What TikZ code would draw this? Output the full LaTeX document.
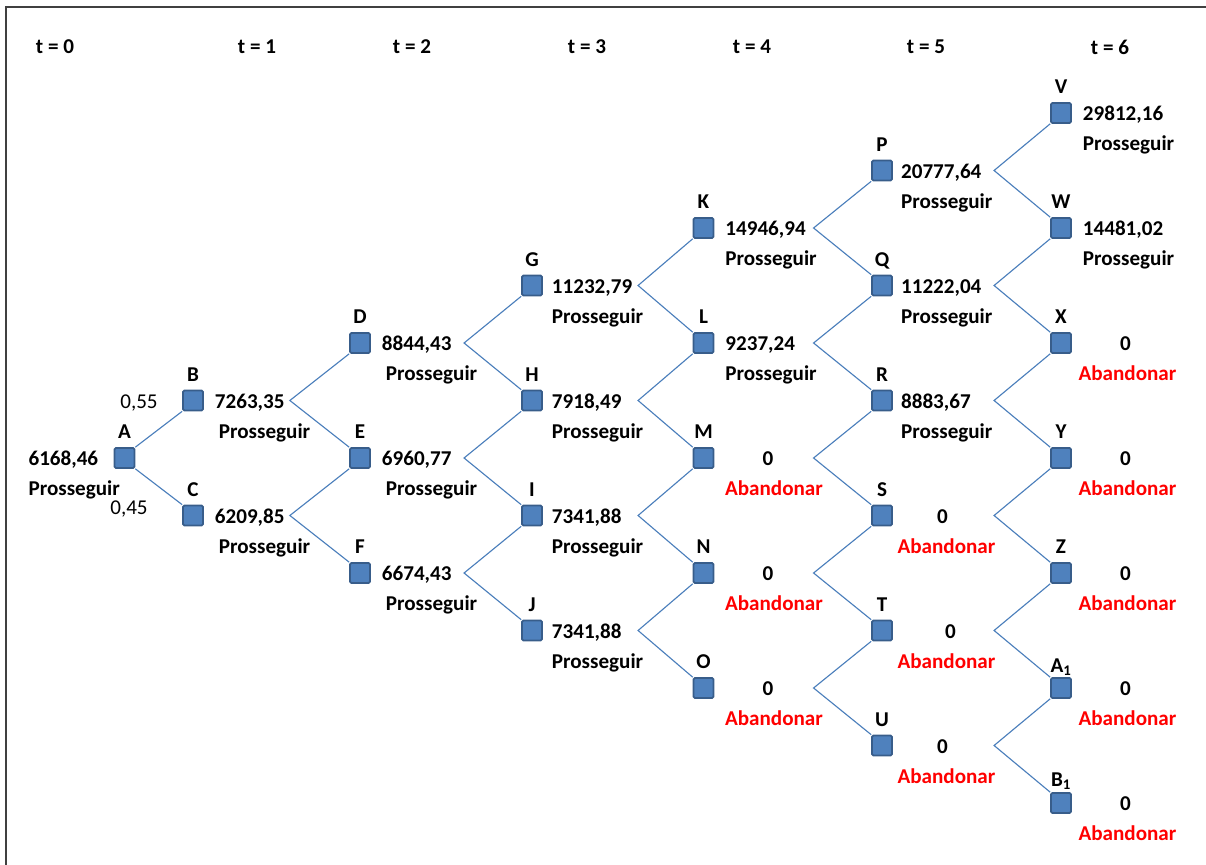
\documentclass[tikz,border=0pt]{standalone}
\usepackage{fontspec}
\setmainfont{Carlito}
\usepackage{tikz}
\usetikzlibrary{positioning}
\definecolor{nodefill}{HTML}{4F81BD}
\definecolor{nodeline}{HTML}{385D8A}
\definecolor{edgeblue}{HTML}{4A7EBB}
\definecolor{framegray}{HTML}{404040}

\begin{document}
\begin{tikzpicture}[x=0.025cm, y=-0.025cm,
  sq/.style={rectangle, draw=nodeline, fill=nodefill, line width=1.2pt,
    minimum size=0.5cm, inner sep=0pt, rounded corners=1pt},
  lbl/.style={font=\fontsize{15}{17}\selectfont\bfseries, inner sep=0pt, text depth=0pt},
  val/.style={font=\fontsize{15}{17}\selectfont\bfseries, inner sep=0pt,
    text height=14pt, text depth=3pt},
  go/.style={val},
  stop/.style={val, text=red},
  prob/.style={font=\fontsize{15}{17}\selectfont, inner sep=0pt},
  hdr/.style={font=\fontsize{15}{17}\selectfont\bfseries, inner sep=0pt},
  link/.style={draw=edgeblue, line width=0.8pt}
]
\useasboundingbox (0,0) rectangle (1206,865);
\draw[framegray, line width=1.4pt] (6,865) -- (6,7) -- (1206,7);
% time headers
\node[hdr] (t0) at (55,47) {t = 0};
\node[hdr] (t1) at (257,47) {t = 1};
\node[hdr] (t2) at (412,47) {t = 2};
\node[hdr] (t3) at (587,47) {t = 3};
\node[hdr] (t4) at (752,47) {t = 4};
\node[hdr] (t5) at (926,47) {t = 5};
\node[hdr] (t6) at (1110,47) {t = 6};
% t = 0
\node[sq] (A) at (124.5,458) {}; \node[lbl,above=0.2cm of A] {A};
\node[val,left=0.38cm of A] (Av) {6168,46};
\node[go,below right=0.14cm and 0cm of Av.south west] {Prosseguir};
% t = 1
\node[sq] (B) at (193,400.5) {}; \node[lbl,above=0.2cm of B] {B};
\node[val,right=0.27cm of B] (Bv) {7263,35};
\node[go,below right=0.14cm and 0.1cm of Bv.south west] {Prosseguir};
\node[sq] (C) at (193,515.5) {}; \node[lbl,above=0.2cm of C] {C};
\node[val,right=0.27cm of C] (Cv) {6209,85};
\node[go,below right=0.14cm and 0.1cm of Cv.south west] {Prosseguir};
% t = 2
\node[sq] (D) at (360,343) {}; \node[lbl,above=0.2cm of D] {D};
\node[val,right=0.27cm of D] (Dv) {8844,43};
\node[go,below right=0.14cm and 0.1cm of Dv.south west] {Prosseguir};
\node[sq] (E) at (360,458) {}; \node[lbl,above=0.2cm of E] {E};
\node[val,right=0.27cm of E] (Ev) {6960,77};
\node[go,below right=0.14cm and 0.1cm of Ev.south west] {Prosseguir};
\node[sq] (F) at (360,573) {}; \node[lbl,above=0.2cm of F] {F};
\node[val,right=0.27cm of F] (Fv) {6674,43};
\node[go,below right=0.14cm and 0.1cm of Fv.south west] {Prosseguir};
% t = 3
\node[sq] (G) at (532,285.5) {}; \node[lbl,above=0.2cm of G] {G};
\node[val,right=0.22cm of G] (Gv) {11232,79};
\node[go,below right=0.14cm and 0cm of Gv.south west] {Prosseguir};
\node[sq] (H) at (532,400.5) {}; \node[lbl,above=0.2cm of H] {H};
\node[val,right=0.22cm of H] (Hv) {7918,49};
\node[go,below right=0.14cm and 0cm of Hv.south west] {Prosseguir};
\node[sq] (I) at (532,515.5) {}; \node[lbl,above=0.2cm of I] {I};
\node[val,right=0.22cm of I] (Iv) {7341,88};
\node[go,below right=0.14cm and 0cm of Iv.south west] {Prosseguir};
\node[sq] (J) at (532,630.5) {}; \node[lbl,above=0.2cm of J] {J};
\node[val,right=0.22cm of J] (Jv) {7341,88};
\node[go,below right=0.14cm and 0cm of Jv.south west] {Prosseguir};
% t = 4
\node[sq] (K) at (703.5,228) {}; \node[lbl,above=0.2cm of K] {K};
\node[val,right=0.27cm of K] (Kv) {14946,94};
\node[go,below right=0.14cm and 0cm of Kv.south west] {Prosseguir};
\node[sq] (L) at (703.5,343) {}; \node[lbl,above=0.2cm of L] {L};
\node[val,right=0.27cm of L] (Lv) {9237,24};
\node[go,below right=0.14cm and 0cm of Lv.south west] {Prosseguir};
\node[sq] (M) at (703.5,458) {}; \node[lbl,above=0.2cm of M] {M};
\node[val,right=1.2cm of M] (Mv) {0};
\node[stop,below=0.14cm of Mv,xshift=0.15cm] {Abandonar};
\node[sq] (N) at (703.5,573) {}; \node[lbl,above=0.2cm of N] {N};
\node[val,right=1.2cm of N] (Nv) {0};
\node[stop,below=0.14cm of Nv,xshift=0.15cm] {Abandonar};
\node[sq] (O) at (703.5,688) {}; \node[lbl,above=0.2cm of O] {O};
\node[val,right=1.2cm of O] (Ov) {0};
\node[stop,below=0.14cm of Ov,xshift=0.15cm] {Abandonar};
% t = 5
\node[sq] (P) at (882,170.5) {}; \node[lbl,above=0.2cm of P] {P};
\node[val,right=0.2cm of P] (Pv) {20777,64};
\node[go,below right=0.14cm and 0cm of Pv.south west] {Prosseguir};
\node[sq] (Q) at (882,285.5) {}; \node[lbl,above=0.2cm of Q] {Q};
\node[val,right=0.2cm of Q] (Qv) {11222,04};
\node[go,below right=0.14cm and 0cm of Qv.south west] {Prosseguir};
\node[sq] (R) at (882,400.5) {}; \node[lbl,above=0.2cm of R] {R};
\node[val,right=0.2cm of R] (Rv) {8883,67};
\node[go,below right=0.14cm and 0cm of Rv.south west] {Prosseguir};
\node[sq] (S) at (882,515.5) {}; \node[lbl,above=0.2cm of S] {S};
\node[val,right=1.1cm of S] (Sv) {0};
\node[stop,below=0.14cm of Sv,xshift=0.1cm] {Abandonar};
\node[sq] (T) at (882,630.5) {}; \node[lbl,above=0.2cm of T] {T};
\node[val,right=1.3cm of T] (Tv) {0};
\node[stop,below=0.14cm of Tv,xshift=-0.1cm] {Abandonar};
\node[sq] (U) at (882,745.5) {}; \node[lbl,above=0.2cm of U] {U};
\node[val,right=1.1cm of U] (Uv) {0};
\node[stop,below=0.14cm of Uv,xshift=0.1cm] {Abandonar};
% t = 6
\node[sq] (V) at (1061,113) {}; \node[lbl,above=0.2cm of V] {V};
\node[val,right=0.27cm of V] (Vv) {29812,16};
\node[go,below right=0.14cm and 0cm of Vv.south west] {Prosseguir};
\node[sq] (W) at (1061,228) {}; \node[lbl,above=0.2cm of W] {W};
\node[val,right=0.27cm of W] (Wv) {14481,02};
\node[go,below right=0.14cm and 0cm of Wv.south west] {Prosseguir};
\node[sq] (X) at (1061,343) {}; \node[lbl,above=0.2cm of X] {X};
\node[val,right=1.2cm of X] (Xv) {0};
\node[stop,below=0.14cm of Xv,xshift=0.05cm] {Abandonar};
\node[sq] (Y) at (1061,458) {}; \node[lbl,above=0.2cm of Y] {Y};
\node[val,right=1.2cm of Y] (Yv) {0};
\node[stop,below=0.14cm of Yv,xshift=0.05cm] {Abandonar};
\node[sq] (Z) at (1061,573) {}; \node[lbl,above=0.2cm of Z] {Z};
\node[val,right=1.2cm of Z] (Zv) {0};
\node[stop,below=0.14cm of Zv,xshift=0.05cm] {Abandonar};
\node[sq] (A1) at (1061,688) {}; \node[lbl,above=0.1cm of A1] {A\textsubscript{1}};
\node[val,right=1.2cm of A1] (A1v) {0};
\node[stop,below=0.14cm of A1v,xshift=0.05cm] {Abandonar};
\node[sq] (B1) at (1061,803) {}; \node[lbl,above=0.14cm of B1] {B\textsubscript{1}};
\node[val,right=1.2cm of B1] (B1v) {0};
\node[stop,below=0.14cm of B1v,xshift=0.05cm] {Abandonar};
% branch points
\coordinate[right=2.15cm of B] (Bj); \coordinate[right=2.15cm of C] (Cj);
\coordinate[right=2.33cm of D] (Dj); \coordinate[right=2.33cm of E] (Ej);
\coordinate[right=2.33cm of F] (Fj);
\coordinate[right=2.38cm of G] (Gj); \coordinate[right=2.38cm of H] (Hj);
\coordinate[right=2.38cm of I] (Ij); \coordinate[right=2.38cm of J] (Jj);
\coordinate[right=2.48cm of K] (Kj); \coordinate[right=2.48cm of L] (Lj);
\coordinate[right=2.48cm of M] (Mj); \coordinate[right=2.48cm of N] (Nj);
\coordinate[right=2.48cm of O] (Oj);
\coordinate[right=2.53cm of P] (Pj); \coordinate[right=2.53cm of Q] (Qj);
\coordinate[right=2.53cm of R] (Rj); \coordinate[right=2.53cm of S] (Sj);
\coordinate[right=2.53cm of T] (Tj); \coordinate[right=2.53cm of U] (Uj);
% branches
\draw[link] (A.north east) -- (B.south west); \draw[link] (A.south east) -- (C.north west);
\node[prob] (pu) at (139,403) {0,55};
\node[prob] (pd) at (129,509) {0,45};
\draw[link] (D.south west) -- (Bj) -- (E.north west);
\draw[link] (E.south west) -- (Cj) -- (F.north west);
\draw[link] (G.south west) -- (Dj) -- (H.north west);
\draw[link] (H.south west) -- (Ej) -- (I.north west);
\draw[link] (I.south west) -- (Fj) -- (J.north west);
\draw[link] (K.south west) -- (Gj) -- (L.north west);
\draw[link] (L.south west) -- (Hj) -- (M.north west);
\draw[link] (M.south west) -- (Ij) -- (N.north west);
\draw[link] (N.south west) -- (Jj) -- (O.north west);
\draw[link] (P.south west) -- (Kj) -- (Q.north west);
\draw[link] (Q.south west) -- (Lj) -- (R.north west);
\draw[link] (R.south west) -- (Mj) -- (S.north west);
\draw[link] (S.south west) -- (Nj) -- (T.north west);
\draw[link] (T.south west) -- (Oj) -- (U.north west);
\draw[link] (V.south west) -- (Pj) -- (W.north west);
\draw[link] (W.south west) -- (Qj) -- (X.north west);
\draw[link] (X.south west) -- (Rj) -- (Y.north west);
\draw[link] (Y.south west) -- (Sj) -- (Z.north west);
\draw[link] (Z.south west) -- (Tj) -- (A1.north west);
\draw[link] (A1.south west) -- (Uj) -- (B1.north west);
\end{tikzpicture}
\end{document}
